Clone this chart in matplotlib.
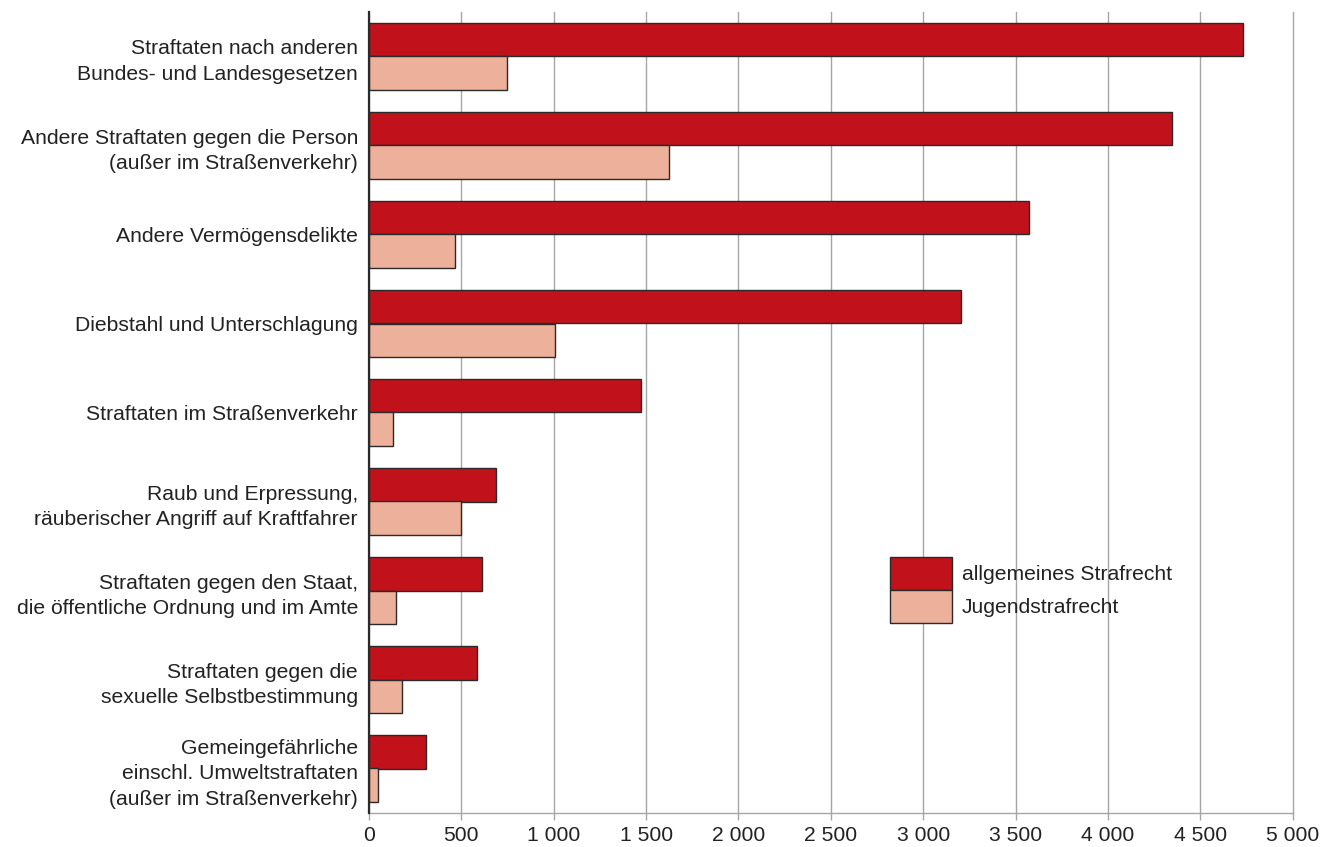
import numpy as np
from matplotlib import pyplot as plt
from matplotlib.ticker import FuncFormatter
from matplotlib.patches import Patch

plt.rcParams['font.family'] = ['Liberation Sans', 'DejaVu Sans']

categories = [
    'Straftaten nach anderen\nBundes- und Landesgesetzen',
    'Andere Straftaten gegen die Person\n(außer im Straßenverkehr)',
    'Andere Vermögensdelikte',
    'Diebstahl und Unterschlagung',
    'Straftaten im Straßenverkehr',
    'Raub und Erpressung,\nräuberischer Angriff auf Kraftfahrer',
    'Straftaten gegen den Staat,\ndie öffentliche Ordnung und im Amte',
    'Straftaten gegen die\nsexuelle Selbstbestimmung',
    'Gemeingefährliche\neinschl. Umweltstraftaten\n(außer im Straßenverkehr)',
]
allgemein = [4733, 4345, 3573, 3205, 1475, 686, 612, 585, 309]
jugend = [746, 1623, 464, 1006, 132, 500, 145, 177, 47]
series_names = ['allgemeines Strafrecht', 'Jugendstrafrecht']

red = '#c1121c'
salmon = '#edb09a'
edge = '#2a2a2a'
txt = '#222222'
grid = '#a6a6a6'
fs = 15.2

fig = plt.figure(figsize=(13.36, 8.47), dpi=100)
ax = fig.add_axes([369/1336, 1-813/847, (1292.7-369)/1336, (813-12)/847])

y = np.arange(len(categories))
h = 0.371
ax.barh(y - h/2, allgemein, height=h, color=red, edgecolor=edge, linewidth=1.0, zorder=3)
ax.barh(y + h/2, jugend, height=h, color=salmon, edgecolor=edge, linewidth=1.0, zorder=3)

ax.set_xlim(0, 5000)
ax.set_ylim(len(categories) - 0.5, -0.5)
ax.set_xticks(np.arange(0, 5001, 500))
ax.xaxis.set_major_formatter(FuncFormatter(lambda v, p: f'{int(v):,}'.replace(',', ' ')))
ax.set_yticks(y)
ax.set_yticklabels(categories, ha='right', fontsize=fs, color=txt, linespacing=1.45)
ax.tick_params(axis='y', length=0, pad=8)
ax.tick_params(axis='x', length=5, width=1, color=grid, labelsize=fs, labelcolor=txt, pad=4)

ax.grid(axis='x', color=grid, linewidth=1, zorder=0)
for gl in ax.get_xgridlines():
    gl.set_clip_on(False)
ax.set_axisbelow(True)
for s in ['top', 'right']:
    ax.spines[s].set_visible(False)
ax.spines['bottom'].set_color(grid)
ax.spines['bottom'].set_linewidth(1)
ax.spines['left'].set_color(edge)
ax.spines['left'].set_linewidth(1.6)
ax.spines['left'].set_zorder(4)

handles = [Patch(facecolor=red, edgecolor=edge, linewidth=1),
           Patch(facecolor=salmon, edgecolor=edge, linewidth=1)]
fig.legend(handles, series_names, loc='upper left',
           bbox_to_anchor=(890/1336, 1-557/847), frameon=False,
           fontsize=fs, handlelength=2.92, handleheight=2.03,
           labelspacing=0, handletextpad=0.5, borderpad=0, borderaxespad=0,
           labelcolor=txt)

plt.savefig('out.png', dpi=100)
